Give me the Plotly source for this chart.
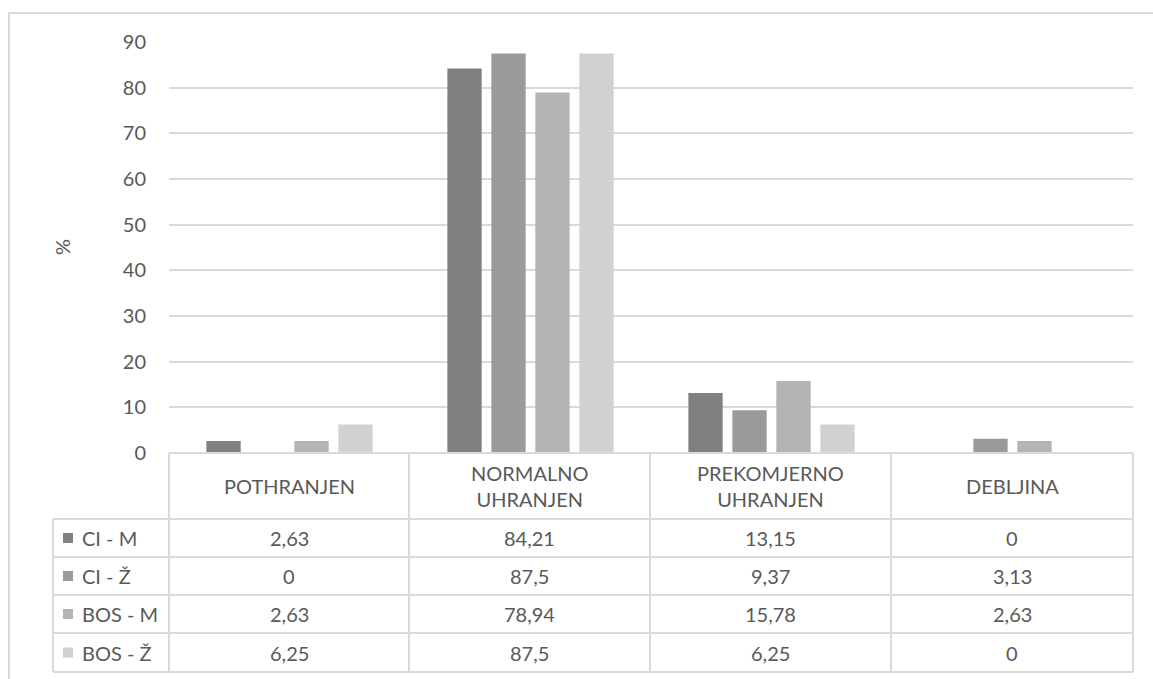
import plotly.graph_objects as go

# Nutritional status categories and the share (%) of each group
categories = ["POTHRANJEN", "NORMALNO<br>UHRANJEN", "PREKOMJERNO<br>UHRANJEN", "DEBLJINA"]
series_names = ["CI - M", "CI - Ž", "BOS - M", "BOS - Ž"]
ci_m = [2.63, 84.21, 13.15, 0]
ci_z = [0, 87.5, 9.37, 3.13]
bos_m = [2.63, 78.94, 15.78, 2.63]
bos_z = [6.25, 87.5, 6.25, 0]
y_ticks = [0, 10, 20, 30, 40, 50, 60, 70, 80, 90]

series_values = [ci_m, ci_z, bos_m, bos_z]
colors = ["#808080", "#9b9b9b", "#b4b4b4", "#d1d1d1"]

W, H = 1153, 679
PL, PR, PT, PB = 169, 1133, 42, 453  # plot area in pixels
TEXT = "#595959"
LINE = "#d9d9d9"
FONT = "Lato"
FS = 20


def fx(px):
    return (px - PL) / (PR - PL)


def fy(py):
    return (PB - py) / (PB - PT)


def fmt(v):
    return f"{v:g}".replace(".", ",")


x_idx = list(range(len(categories)))

fig = go.Figure()
for name, vals, col in zip(series_names, series_values, colors):
    fig.add_trace(go.Bar(x=x_idx, y=vals, name=name, marker=dict(color=col, line=dict(width=0)),
                         showlegend=False, hoverinfo="skip"))

shapes = []
annotations = []

# outer chart border
shapes.append(dict(type="rect", xref="paper", yref="paper", x0=fx(9), x1=fx(1170), y0=fy(700), y1=fy(13),
                   line=dict(color=LINE, width=2), fillcolor="rgba(0,0,0,0)", layer="below"))

# data table geometry
col_edges = [PL, 409, 650, 891, PR]
leg_left = 53
row_edges = [453, 519, 557, 595, 633, 672]


def hline(py, x0, x1):
    shapes.append(dict(type="line", xref="paper", yref="paper", x0=fx(x0), x1=fx(x1), y0=fy(py), y1=fy(py),
                       line=dict(color=LINE, width=2)))


def vline(px, y0, y1):
    shapes.append(dict(type="line", xref="paper", yref="paper", x0=fx(px), x1=fx(px), y0=fy(y0), y1=fy(y1),
                       line=dict(color=LINE, width=2)))


hline(row_edges[0], PL, PR)
for r in row_edges[1:]:
    hline(r, leg_left, PR)
for c in col_edges:
    vline(c, row_edges[0], row_edges[-1])
vline(leg_left, row_edges[1], row_edges[-1])

# category headers
for i, cat in enumerate(categories):
    cx = (col_edges[i] + col_edges[i + 1]) / 2
    cy = (row_edges[0] + row_edges[1]) / 2
    annotations.append(dict(x=fx(cx), y=fy(cy), xref="paper", yref="paper", text=cat, showarrow=False,
                            font=dict(family=FONT, size=FS, color=TEXT), xanchor="center", yanchor="middle"))

# series rows: legend key, name and values
for r, (name, vals, col) in enumerate(zip(series_names, series_values, colors)):
    cy = (row_edges[r + 1] + row_edges[r + 2]) / 2
    shapes.append(dict(type="rect", xref="paper", yref="paper", x0=fx(63), x1=fx(73), y0=fy(cy + 5), y1=fy(cy - 5),
                       fillcolor=col, line=dict(width=0)))
    annotations.append(dict(x=fx(80), y=fy(cy), xref="paper", yref="paper", text=name, showarrow=False,
                            font=dict(family=FONT, size=FS, color=TEXT), xanchor="left", yanchor="middle"))
    for i, v in enumerate(vals):
        cx = (col_edges[i] + col_edges[i + 1]) / 2
        annotations.append(dict(x=fx(cx), y=fy(cy), xref="paper", yref="paper", text=fmt(v), showarrow=False,
                                font=dict(family=FONT, size=FS, color=TEXT), xanchor="center", yanchor="middle"))

# y-axis title
annotations.append(dict(x=fx(62), y=fy(247), xref="paper", yref="paper", text="%", showarrow=False, textangle=-90,
                        font=dict(family=FONT, size=FS, color=TEXT), xanchor="center", yanchor="middle"))

fig.update_layout(
    width=W, height=H,
    margin=dict(l=PL, r=W - PR, t=PT, b=H - PB, pad=0),
    paper_bgcolor="white", plot_bgcolor="white",
    barmode="group", bargap=0.27, bargroupgap=0.22,
    font=dict(family=FONT, color=TEXT, size=FS),
    xaxis=dict(range=[-0.5, 3.5], showticklabels=False, showgrid=False, zeroline=False, showline=False,
               fixedrange=True),
    yaxis=dict(range=[0, 90], tickvals=y_ticks, showgrid=True, gridcolor=LINE, gridwidth=2, zeroline=False,
               showline=False, ticks="", ticklabelstandoff=22, tickfont=dict(family=FONT, size=FS, color=TEXT),
               fixedrange=True),
    shapes=shapes,
    annotations=annotations,
)

fig.write_html("out.html", config={"displayModeBar": False})
